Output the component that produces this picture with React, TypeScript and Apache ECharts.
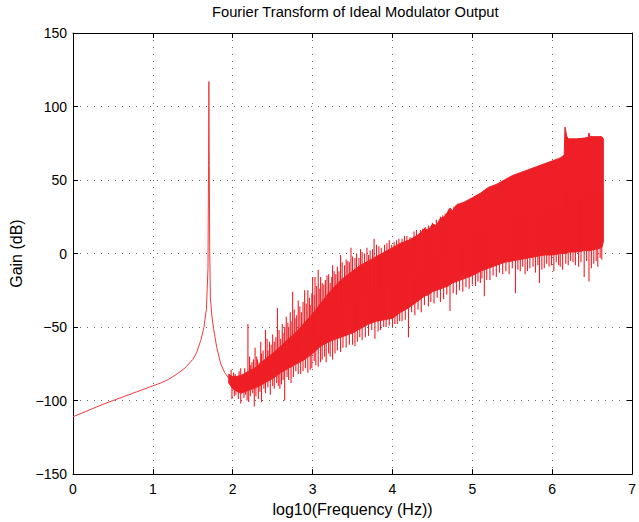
import React, { useEffect, useRef } from "react";
import * as echarts from "echarts";

const RED = "#ee1f26";
const LINE_RED = "#f03a3a";
const FONT = "Liberation Sans, Arial, sans-serif";

const xTicks = [0, 1, 2, 3, 4, 5, 6, 7];
const yTicks = [-150, -100, -50, 0, 50, 100, 150];

// Smooth part: tone + low-frequency leakage
const toneFreq = [0, 0.2, 0.4, 0.6, 0.8, 1.0, 1.1, 1.2, 1.3, 1.4, 1.45, 1.5, 1.55, 1.6, 1.64, 1.67, 1.69, 1.697, 1.701, 1.705, 1.712, 1.72, 1.74, 1.76, 1.8, 1.85, 1.9, 1.95];
const toneGain = [-111, -106.5, -102, -98, -94, -90, -88, -85.5, -82, -78, -75, -72, -67, -59, -50, -38, -10, 60, 117, 70, 0, -30, -43, -51, -64, -75, -81, -85];

// Dense noise band (core envelope)
const bandFreq = [1.95, 2.0, 2.1, 2.2, 2.3, 2.4, 2.5, 2.6, 2.7, 2.8, 2.9, 3.0, 3.1, 3.2, 3.3, 3.4, 3.5, 3.6, 3.7, 3.8, 3.9, 4.0, 4.1, 4.2, 4.3, 4.35, 4.4, 4.45, 4.5, 4.55, 4.6, 4.65, 4.7, 4.72, 4.75, 4.8, 4.9, 5.0, 5.1, 5.2, 5.3, 5.4, 5.5, 5.6, 5.7, 5.8, 5.9, 6.0, 6.1, 6.15, 6.16, 6.18, 6.2, 6.3, 6.4, 6.45, 6.46, 6.47, 6.55, 6.62, 6.64];
const bandTop = [-82, -84, -83, -80, -77, -72, -68, -63, -58, -53, -47, -41, -34, -27, -21, -16, -12, -8, -5, -2, 1, 4, 7, 9, 12, 14, 17, 16, 20, 19, 24, 25, 29, 31, 29, 33, 35, 38, 41, 45, 47, 50, 53, 55, 57, 59, 61, 63, 65, 67, 86, 80, 78, 78, 78.5, 79, 82, 79.5, 79.5, 79.5, 78];
const bandBottom = [-88, -92, -95, -93, -91, -88, -85, -81, -78, -75, -72, -68, -63, -60, -58, -56, -54, -51, -48, -46, -45, -44, -40, -37, -33, -31, -29, -28, -26, -25, -24, -23, -22, -21, -20, -19, -17, -15, -12, -10, -8, -6, -5, -4, -3, -2, -1, -1, 0, 0, 0, 0, 1, 1, 2, 2, 2, 2, 3, 4, 8];

// Tall upward spikes
const upSpikeFreq = [1.98, 2.03, 2.08, 2.12, 2.15, 2.19, 2.22, 2.26, 2.3, 2.33, 2.36, 2.41, 2.44, 2.48, 2.52, 2.56, 2.6, 2.63, 2.67, 2.7, 2.73, 2.75, 2.78, 2.82, 2.86, 2.9, 2.94, 2.97, 3.0, 3.03, 3.07, 3.1, 3.14, 3.18, 3.22, 3.25, 3.29, 3.35, 3.4, 3.44, 3.48, 3.53, 3.6, 3.65, 3.72, 3.77, 3.83, 3.9, 3.96, 4.02, 4.08, 4.12, 4.18, 4.27, 4.35, 4.41, 4.5, 4.6, 4.66, 4.77];
const upSpikeGain = [-79, -82, -80, -84, -78, -48, -76, -72, -70, -74, -68, -52, -66, -62, -60, -37, -58, -54, -43, -50, -46, -26, -44, -32, -40, -25, -25, -35, -16, -16, -11, -16, -21, -15, -20, -8, -14, -1, -8, -5, 4, -3, 3, 0, 2, 10, 5, 6, 9, 8, 10, 10, 12, 15, 16, 18, 21, 25, 27, 32];

// Smaller upward spikes
const minorUpFreq = [2.01, 2.06, 2.1, 2.17, 2.21, 2.24, 2.28, 2.31, 2.35, 2.38, 2.43, 2.46, 2.5, 2.54, 2.58, 2.62, 2.65, 2.69, 2.72, 2.77, 2.8, 2.84, 2.88, 2.92, 2.96, 2.99, 3.02, 3.05, 3.09, 3.12, 3.16, 3.2, 3.24, 3.27, 3.31, 3.33, 3.37, 3.42, 3.46, 3.5, 3.55, 3.58, 3.62, 3.68, 3.7, 3.75, 3.8, 3.86, 3.93, 3.99, 4.05, 4.15, 4.22, 4.3, 4.38, 4.45, 4.55, 4.63, 4.7, 4.82];
const minorUpGain = [-81, -86, -78, -82, -70, -74, -64, -72, -60, -66, -58, -60, -55, -57, -52, -48, -50, -47, -40, -38, -42, -36, -33, -34, -30, -27, -28, -22, -24, -20, -18, -14, -16, -12, -9, -12, -6, -4, -6, -2, 0, -3, 1, 4, -1, 3, 6, 4, 7, 6, 9, 12, 11, 16, 17, 19, 23, 26, 30, 34];

// Tall downward spikes
const downSpikeFreq = [1.99, 2.04, 2.1, 2.14, 2.18, 2.22, 2.27, 2.32, 2.36, 2.41, 2.47, 2.52, 2.57, 2.61, 2.65, 2.7, 2.76, 2.82, 2.88, 2.94, 2.99, 3.04, 3.07, 3.12, 3.17, 3.22, 3.28, 3.35, 3.42, 3.5, 3.56, 3.62, 3.7, 3.78, 3.85, 3.92, 4.0, 4.06, 4.12, 4.2, 4.28, 4.36, 4.45, 4.52, 4.6, 4.72, 4.8, 4.88, 4.96, 5.04, 5.1, 5.15, 5.22, 5.3, 5.38, 5.46, 5.54, 5.6, 5.66, 5.72, 5.79, 5.84, 5.9, 5.96, 6.02, 6.08, 6.13, 6.2, 6.26, 6.33, 6.4, 6.46, 6.52, 6.57, 6.62];
const downSpikeGain = [-99, -96, -102, -98, -100, -97, -104, -99, -101, -95, -96, -92, -90, -89, -100, -86, -84, -82, -80, -81, -78, -76, -77, -72, -74, -70, -68, -67, -64, -62, -60, -59, -56, -58, -52, -50, -50, -48, -46, -57, -42, -40, -36, -34, -33, -39, -28, -26, -24, -22, -20, -29, -18, -16, -14, -14, -27, -12, -14, -10, -13, -20, -10, -9, -12, -8, -11, -8, -6, -9, -16, -19, -7, -9, -4];

// Smaller downward spikes
const minorDownFreq = [2.02, 2.07, 2.12, 2.16, 2.2, 2.25, 2.29, 2.34, 2.39, 2.44, 2.5, 2.55, 2.59, 2.63, 2.68, 2.73, 2.79, 2.85, 2.91, 2.97, 3.02, 3.1, 3.15, 3.2, 3.25, 3.31, 3.38, 3.46, 3.53, 3.59, 3.66, 3.74, 3.82, 3.89, 3.96, 4.03, 4.09, 4.16, 4.24, 4.32, 4.4, 4.48, 4.56, 4.64, 4.68, 4.76, 4.84, 4.92, 5.0, 5.07, 5.12, 5.18, 5.26, 5.34, 5.42, 5.5, 5.57, 5.63, 5.69, 5.76, 5.82, 5.87, 5.93, 5.99, 6.05, 6.1, 6.17, 6.23, 6.29, 6.36, 6.43, 6.49, 6.55, 6.6];
const minorDownGain = [-97, -99, -94, -96, -101, -95, -97, -94, -92, -91, -90, -88, -92, -86, -84, -88, -80, -82, -78, -79, -73, -74, -70, -68, -72, -66, -64, -62, -63, -57, -57, -52, -53, -50, -49, -48, -46, -45, -40, -38, -35, -33, -30, -31, -28, -27, -25, -23, -21, -19, -17, -18, -15, -13, -12, -10, -11, -9, -12, -9, -8, -11, -7, -8, -6, -9, -7, -5, -8, -6, -5, -10, -5, -3];

function interp(x: number, xs: number[], ys: number[]) {
  if (x <= xs[0]) return ys[0];
  for (let i = 1; i < xs.length; i++) {
    if (x <= xs[i]) {
      const t = (x - xs[i - 1]) / (xs[i] - xs[i - 1]);
      return ys[i - 1] + t * (ys[i] - ys[i - 1]);
    }
  }
  return ys[ys.length - 1];
}

function bandMid(x: number) {
  return (interp(x, bandFreq, bandTop) + interp(x, bandFreq, bandBottom)) / 2;
}

const fmtY = (v: number) => (v < 0 ? "\u2212" + Math.abs(v) : String(v));

const pairs = (xs: number[], ys: number[]) => xs.map((x, i) => [x, ys[i]]);

export default function App() {
  const ref = useRef<HTMLDivElement>(null);
  useEffect(() => {
    if (!ref.current) return;
    const chart = echarts.init(ref.current, null, { renderer: "svg" });
    const tickStyle = { show: true, inside: true, length: 5, lineStyle: { color: "#000", width: 1 } };
    const axisLine = { show: true, onZero: false, lineStyle: { color: "#000", width: 1 } };
    const splitLine = { show: true, lineStyle: { color: "#666", width: 1, type: [1, 6] as any } };
    const label = { color: "#000", fontSize: 14, fontFamily: FONT };

    const spikeRender = (params: any, api: any) => {
      const x = api.value(0);
      const y = api.value(1);
      const p1 = api.coord([x, y]);
      const p2 = api.coord([x, bandMid(x)]);
      return {
        type: "line",
        shape: { x1: p1[0], y1: p1[1], x2: p2[0], y2: p2[1] },
        style: { stroke: RED, lineWidth: 1.1 },
      };
    };
    const spikeSeries = (xs: number[], ys: number[]) => ({
      type: "custom",
      data: pairs(xs, ys),
      encode: { x: 0, y: 1 },
      renderItem: spikeRender,
      z: 3,
    });

    chart.setOption({
      animation: false,
      backgroundColor: "#fff",
      title: {
        text: "Fourier Transform of Ideal Modulator Output",
        left: "55.6%",
        textAlign: "center",
        top: 4,
        padding: 0,
        textStyle: { color: "#000", fontSize: 14.7, fontWeight: "normal", fontFamily: FONT },
      },
      grid: { left: "11.42%", right: "0.25%", top: "6.32%", bottom: "8.43%", containLabel: false },
      xAxis: [
        {
          type: "value",
          min: 0,
          max: 7,
          interval: 1,
          position: "bottom",
          axisLine,
          axisTick: tickStyle,
          axisLabel: { ...label, margin: 8 },
          splitLine,
          name: "log10(Frequency (Hz))",
          nameLocation: "middle",
          nameGap: 25,
          nameTextStyle: { color: "#000", fontSize: 16, fontFamily: FONT },
        },
        {
          type: "value",
          min: 0,
          max: 7,
          interval: 1,
          position: "top",
          axisLine,
          axisTick: tickStyle,
          axisLabel: { show: false },
          splitLine: { show: false },
        },
      ],
      yAxis: [
        {
          type: "value",
          min: -150,
          max: 150,
          interval: 50,
          position: "left",
          axisLine,
          axisTick: tickStyle,
          axisLabel: { ...label, margin: 6, formatter: fmtY },
          splitLine,
          name: "Gain (dB)",
          nameLocation: "middle",
          nameGap: 49,
          nameTextStyle: { color: "#000", fontSize: 16, fontFamily: FONT },
        },
        {
          type: "value",
          min: -150,
          max: 150,
          interval: 50,
          position: "right",
          axisLine,
          axisTick: tickStyle,
          axisLabel: { show: false },
          splitLine: { show: false },
        },
      ],
      series: [
        {
          type: "line",
          data: pairs(toneFreq, toneGain),
          showSymbol: false,
          symbol: "none",
          lineStyle: { color: LINE_RED, width: 1 },
          z: 3,
        },
        {
          type: "custom",
          data: bandFreq.map((x, i) => [x, bandTop[i], bandBottom[i]]),
          encode: { x: 0, y: [1, 2] },
          renderItem: (params: any, api: any) => {
            if (params.dataIndex !== 0) return null;
            const pts: number[][] = [];
            bandFreq.forEach((x, i) => pts.push(api.coord([x, bandTop[i]])));
            for (let i = bandFreq.length - 1; i >= 0; i--) pts.push(api.coord([bandFreq[i], bandBottom[i]]));
            return {
              type: "polygon",
              shape: { points: pts },
              style: { fill: RED, stroke: RED, lineWidth: 1 },
            };
          },
          z: 3,
        },
        spikeSeries(upSpikeFreq, upSpikeGain),
        spikeSeries(minorUpFreq, minorUpGain),
        spikeSeries(downSpikeFreq, downSpikeGain),
        spikeSeries(minorDownFreq, minorDownGain),
      ],
    });
    const onResize = () => chart.resize();
    window.addEventListener("resize", onResize);
    return () => {
      window.removeEventListener("resize", onResize);
      chart.dispose();
    };
  }, []);
  return (
    <div
      ref={ref}
      style={{ position: "fixed", left: 0, top: 0, width: "100vw", height: "100vh", background: "#fff" }}
    />
  );
}
